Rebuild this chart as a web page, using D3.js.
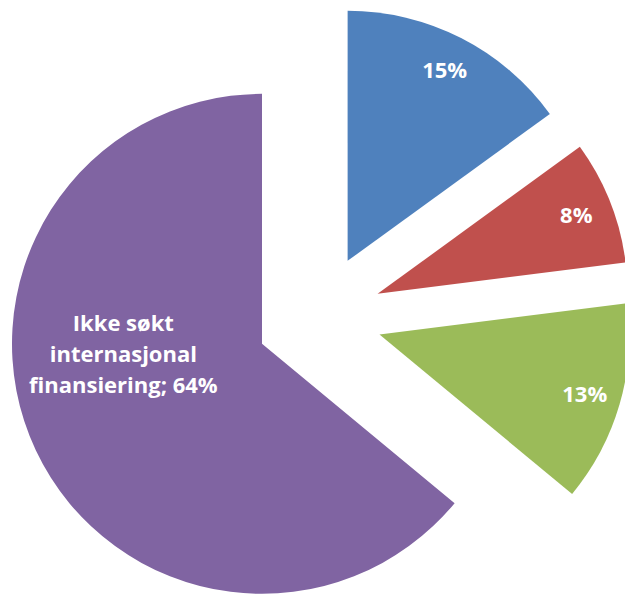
<!DOCTYPE html>
<html>
<head>
<meta charset="utf-8">
<script src="https://cdn.jsdelivr.net/npm/d3@7"></script>
<style>
  body { margin: 0; background: #fff; }
</style>
</head>
<body>
<div id="chart"></div>
<script>
var categories = ["15%", "8%", "13%", "Ikke søkt internasjonal finansiering"];
var values = [15, 8, 13, 64];
var colors = ["#4F81BD", "#C0504D", "#9BBB59", "#8064A2"];

var width = 625, height = 594,
    radius = 250,
    explode = 63,
    cx = 319, cy = 317;

var pie = d3.pie().sort(null).value(function(d) { return d; });
var arcs = pie(values);

var arc = d3.arc().innerRadius(0).outerRadius(radius);

var svg = d3.select("#chart").append("svg")
    .attr("width", width)
    .attr("height", height)
  .append("g")
    .attr("transform", "translate(" + cx + "," + cy + ")");

function offset(d, dist) {
  var a = (d.startAngle + d.endAngle) / 2;
  return [Math.sin(a) * dist, -Math.cos(a) * dist];
}

var slices = svg.selectAll("g.slice")
    .data(arcs)
    .enter().append("g")
    .attr("class", "slice")
    .attr("transform", function(d) {
      var o = offset(d, explode);
      return "translate(" + o[0] + "," + o[1] + ")";
    });

slices.append("path")
    .attr("d", arc)
    .attr("fill", function(d, i) { return colors[i]; });

// labels
slices.each(function(d, i) {
  var g = d3.select(this);
  var pct = Math.round(d.value) + "%";
  var text = g.append("text")
      .attr("text-anchor", "middle")
      .attr("fill", "#fff")
      .style("font-family", "'Open Sans', sans-serif")
      .style("font-weight", "bold")
      .style("font-size", "22px");
  if (i === 3) {
    // big slice gets its category name, placed left of its centre
    var a = 266 * Math.PI / 180, r = 139;
    var x = Math.sin(a) * r, y = -Math.cos(a) * r;
    var lines = ["Ikke søkt", "internasjonal", "finansiering; " + pct];
    lines.forEach(function(l, k) {
      text.append("tspan")
          .attr("x", x)
          .attr("y", y + (k - 1) * 31 + 8)
          .text(l);
    });
  } else {
    var p = offset(d, radius * 0.855);
    text.attr("x", p[0]).attr("y", p[1] + 8).text(pct);
  }
});
</script>
</body>
</html>
